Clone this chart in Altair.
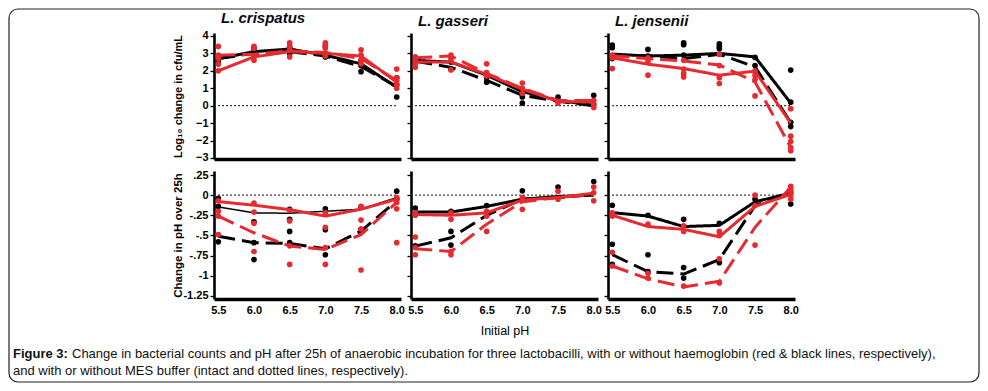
import altair as alt
import pandas as pd

FONT = "Liberation Sans, Arial, Helvetica, sans-serif"
BLACK = "#000000"
RED = "#e62a2f"

PH = [5.5, 6.0, 6.5, 7.0, 7.5, 8.0]
SPECIES = ["L. crispatus", "L. gasseri", "L. jensenii"]
CAPTION_BOLD = "Figure 3:"
CAPTION_1 = ("Change in bacterial counts and pH after 25h of anaerobic incubation for three "
             "lactobacilli, with or without haemoglobin (red & black lines, respectively),")
CAPTION_2 = "and with or without MES buffer (intact and dotted lines, respectively)."

CFU_TICKS = [4, 3, 2, 1, 0, -1, -2, -3]
PH_TICKS = [0.25, 0, -0.25, -0.5, -0.75, -1, -1.25]

# ---------- Log10 change in cfu/mL (mean lines) ----------
CRISP_CFU = {
    "-Hb +MES": [2.7, 3.1, 3.25, 2.9, 2.4, 1.05],
    "-Hb -MES": [2.7, 3.0, 3.1, 2.85, 2.25, 1.1],
    "+Hb +MES": [2.0, 2.8, 3.1, 3.0, 2.85, 1.35],
    "+Hb -MES": [2.9, 2.95, 3.15, 3.05, 2.7, 1.45],
}
GASS_CFU = {
    "-Hb +MES": [2.6, 2.5, 1.75, 0.8, 0.3, 0.02],
    "-Hb -MES": [2.55, 2.2, 1.45, 0.6, 0.25, 0.0],
    "+Hb +MES": [2.5, 2.5, 1.8, 0.95, 0.25, 0.2],
    "+Hb -MES": [2.75, 2.85, 1.85, 1.0, 0.3, 0.3],
}
JENS_CFU = {
    "-Hb +MES": [2.96, 2.85, 2.9, 3.0, 2.8, 0.15],
    "-Hb -MES": [2.9, 2.87, 2.7, 2.95, 2.23, -0.97],
    "+Hb +MES": [2.75, 2.38, 2.13, 1.75, 1.98, -1.0],
    "+Hb -MES": [2.87, 2.7, 2.56, 2.33, 1.36, -2.4],
}
# replicate points
CRISP_CFU_BLACK = {5.5: [2.8, 2.6, 2.4], 6.0: [3.3, 3.1, 2.9], 6.5: [3.35, 3.1, 3.0],
                   7.0: [3.4, 2.9, 2.8], 7.5: [2.6, 2.3, 1.95], 8.0: [1.6, 1.2, 0.5]}
CRISP_CFU_RED = {5.5: [3.4, 2.9, 2.8, 2.7, 2.4, 2.0], 6.0: [3.4, 3.3, 2.8, 2.6],
                 6.5: [3.6, 3.4, 3.2, 2.8], 7.0: [3.6, 3.5, 3.3, 3.0, 2.85],
                 7.5: [3.2, 2.9, 2.6, 2.4], 8.0: [2.1, 1.6, 1.4, 1.2, 1.0]}
GASS_CFU_BLACK = {5.5: [2.7, 2.5], 6.0: [2.5, 2.1], 6.5: [1.6, 1.35],
                  7.0: [0.9, 0.5, 0.15], 7.5: [0.5, 0.3], 8.0: [0.6, 0.05]}
GASS_CFU_RED = {5.5: [2.8, 2.6, 2.4, 2.2], 6.0: [2.9, 2.7, 2.05], 6.5: [2.4, 1.9, 1.7],
                7.0: [1.3, 1.0, 0.7], 7.5: [0.25, 0.15], 8.0: [0.3, 0.1, -0.1]}
JENS_CFU_BLACK = {5.5: [3.48, 3.33, 2.7], 6.0: [3.23, 2.85], 6.5: [3.6, 3.5, 2.9],
                  7.0: [3.55, 3.4, 3.27, 2.95], 7.5: [2.77, 2.3], 8.0: [2.04, 0.2, -0.95, -1.2]}
JENS_CFU_RED = {5.5: [2.9, 2.75, 2.13], 6.0: [2.75, 2.55, 1.75], 6.5: [2.6, 2.1, 1.85, 1.65],
                7.0: [2.95, 2.3, 1.6, 1.27], 7.5: [2.0, 1.75, 1.5, 0.56],
                8.0: [-0.17, -1.75, -2.06, -2.4, -2.58]}

# ---------- Change in pH over 25h (mean lines) ----------
CRISP_PH = {
    "-Hb +MES": [-0.146, -0.22, -0.225, -0.2, -0.175, -0.03],
    "-Hb -MES": [-0.51, -0.59, -0.6, -0.667, -0.446, -0.07],
    "+Hb +MES": [-0.08, -0.125, -0.18, -0.26, -0.175, -0.05],
    "+Hb -MES": [-0.26, -0.467, -0.633, -0.675, -0.49, -0.09],
}
GASS_PH = {
    "-Hb +MES": [-0.21, -0.21, -0.14, -0.05, -0.017, 0.0],
    "-Hb -MES": [-0.633, -0.53, -0.25, -0.05, -0.03, 0.01],
    "+Hb +MES": [-0.24, -0.25, -0.22, -0.06, -0.03, 0.025],
    "+Hb -MES": [-0.667, -0.7, -0.36, -0.083, -0.03, 0.01],
}
JENS_PH = {
    "-Hb +MES": [-0.217, -0.26, -0.39, -0.375, -0.083, 0.025],
    "-Hb -MES": [-0.74, -0.95, -0.98, -0.8, -0.13, 0.02],
    "+Hb +MES": [-0.25, -0.39, -0.425, -0.517, -0.14, 0.01],
    "+Hb -MES": [-0.88, -1.04, -1.14, -1.07, -0.4, 0.1],
}
CRISP_PH_BLACK = {5.5: [-0.04, -0.14, -0.58], 6.0: [-0.33, -0.59, -0.8],
                  6.5: [-0.175, -0.3, -0.45, -0.59], 7.0: [-0.17, -0.43, -0.74],
                  7.5: [-0.15, -0.425], 8.0: [0.05, -0.05]}
CRISP_PH_RED = {5.5: [-0.07, -0.2, -0.26, -0.49], 6.0: [-0.1, -0.21, -0.35, -0.7],
                6.5: [-0.19, -0.32, -0.63, -0.86], 7.0: [-0.22, -0.4, -0.65, -0.86],
                7.5: [-0.14, -0.31, -0.42, -0.93], 8.0: [-0.03, -0.09, -0.17, -0.59]}
GASS_PH_BLACK = {5.5: [-0.16, -0.63], 6.0: [-0.2, -0.45, -0.62], 6.5: [-0.13],
                 7.0: [0.054], 7.5: [0.1], 8.0: [0.17]}
GASS_PH_RED = {5.5: [-0.22, -0.25, -0.52, -0.65, -0.74], 6.0: [-0.22, -0.3, -0.7, -0.74],
               6.5: [-0.2, -0.26, -0.45], 7.0: [-0.03, -0.175], 7.5: [0.05, -0.05],
               8.0: [0.1, 0.03, -0.07]}
JENS_PH_BLACK = {5.5: [-0.125, -0.61, -0.86], 6.0: [-0.25, -0.74, -0.95],
                 6.5: [-0.3, -0.9, -1.03], 7.0: [-0.35, -0.84], 7.5: [-0.05], 8.0: [0.03, -0.11]}
JENS_PH_RED = {5.5: [-0.22, -0.26, -0.71, -0.88], 6.0: [-0.36, -0.97, -1.03],
               6.5: [-0.38, -0.45, -1.13], 7.0: [-0.45, -0.5, -0.79, -1.09],
               7.5: [0.0, -0.13, -0.62], 8.0: [0.11, 0.08, 0.05, 0.0, -0.05]}


def lines_df(d):
    rows = []
    for key, vals in d.items():
        hb, mes = key.split(" ")
        for p, v in zip(PH, vals):
            rows.append({"ph": p, "value": v, "hb": hb, "mes": mes, "series": key})
    return pd.DataFrame(rows)


def pts_df(black, red):
    rows = []
    for hb, d in (("-Hb", black), ("+Hb", red)):
        for p, vals in d.items():
            for v in vals:
                rows.append({"ph": p, "value": v, "hb": hb})
    return pd.DataFrame(rows)


def panel(row, col, lines, black, red):
    top = row == 0
    h = 126 if top else 128
    ydom = [-3.06, 4.17] if top else [-1.29, 0.30]

    if top:
        xaxis = alt.Axis(title=None, labels=False, ticks=False, domainWidth=3.5)
    else:
        xaxis = alt.Axis(values=PH, format=".1f", ticks=False, labelPadding=5,
                         domainWidth=3.5, labelFontSize=11,
                         title="Initial pH" if col == 1 else None,
                         titleFontWeight="normal", titleFontSize=12.5, titlePadding=9)
    if col == 0:
        if top:
            yaxis = alt.Axis(values=CFU_TICKS, format="d", title="Log₁₀ change in cfu/mL",
                             titleX=-36, titleY=h / 2, titleAlign="center",
                             titleBaseline="middle", titleFontSize=11)
        else:
            yaxis = alt.Axis(values=PH_TICKS,
                             labelExpr="replace(toString(datum.value), '0.', '.')",
                             title="Change in pH over 25h",
                             titleX=-36, titleY=h / 2, titleAlign="center",
                             titleBaseline="middle", titleFontSize=11.5)
    else:
        yaxis = alt.Axis(values=CFU_TICKS if top else PH_TICKS, labels=False, title=None)

    x = alt.X("ph:Q", scale=alt.Scale(domain=[5.44, 8.06], nice=False, zero=False), axis=xaxis)
    y = alt.Y("value:Q", scale=alt.Scale(domain=ydom, nice=False, zero=False), axis=yaxis)

    ldf = lines_df(lines)
    pdf = pts_df(black, red)

    rule = alt.Chart(pd.DataFrame({"ph": [5.5], "ph2": [8.0], "value": [0.0]})).mark_rule(
        color=BLACK, strokeDash=[1.5, 2.5], strokeWidth=1.2).encode(x=x, x2="ph2:Q", y=y)

    dash = alt.StrokeDash("mes:N", scale=alt.Scale(domain=["+MES", "-MES"],
                                                   range=[[1, 0], [17, 7]]), legend=None)
    if (row, col) == (1, 0):
        sw = alt.condition(alt.datum.series == "-Hb +MES", alt.value(1.5), alt.value(3))
    else:
        sw = alt.value(3)

    layers = [rule]
    for hb, colr in (("-Hb", BLACK), ("+Hb", RED)):
        layers.append(alt.Chart(ldf).transform_filter(alt.datum.hb == hb).mark_line(
            color=colr).encode(x=x, y=y, strokeDash=dash, detail="series:N", strokeWidth=sw))
        layers.append(alt.Chart(pdf).transform_filter(alt.datum.hb == hb).mark_circle(
            color=colr, size=32, opacity=1).encode(x=x, y=y))

    if (row, col) == (1, 0):
        frame = alt.Chart(pd.DataFrame({"a": [0]})).mark_rect(
            fillOpacity=0, stroke="#222222", strokeWidth=1.2, cornerRadius=9).encode(
            x=alt.value(-205), x2=alt.value(765), y=alt.value(-162), y2=alt.value(211))
        cap0 = alt.Chart(pd.DataFrame({"t": [CAPTION_BOLD]})).mark_text(
            align="left", baseline="middle", fontSize=13, fontWeight="bold", font=FONT,
            color="#111111").encode(text="t:N", x=alt.value(-201), y=alt.value(183))
        cap1 = alt.Chart(pd.DataFrame({"t": [CAPTION_1]})).mark_text(
            align="left", baseline="middle", fontSize=13, font=FONT,
            color="#111111").encode(text="t:N", x=alt.value(-142), y=alt.value(183))
        cap2 = alt.Chart(pd.DataFrame({"t": [CAPTION_2]})).mark_text(
            align="left", baseline="middle", fontSize=13, font=FONT,
            color="#111111").encode(text="t:N", x=alt.value(-201), y=alt.value(200))
        layers += [frame, cap0, cap1, cap2]

    props = dict(width=187, height=h)
    if top:
        props["title"] = alt.TitleParams(SPECIES[col], anchor="start", frame="group", dx=7,
                                         offset=4, fontSize=15, fontStyle="italic",
                                         fontWeight="bold", font=FONT, color="#0a0a14")
    return alt.layer(*layers).properties(**props)


panels = [
    panel(0, 0, CRISP_CFU, CRISP_CFU_BLACK, CRISP_CFU_RED),
    panel(0, 1, GASS_CFU, GASS_CFU_BLACK, GASS_CFU_RED),
    panel(0, 2, JENS_CFU, JENS_CFU_BLACK, JENS_CFU_RED),
    panel(1, 0, CRISP_PH, CRISP_PH_BLACK, CRISP_PH_RED),
    panel(1, 1, GASS_PH, GASS_PH_BLACK, GASS_PH_RED),
    panel(1, 2, JENS_PH, JENS_PH_BLACK, JENS_PH_RED),
]

chart = alt.concat(*panels, columns=3, spacing={"row": 12, "column": 10},
                   bounds="flush").properties(
    padding={"left": 0, "top": 0, "right": 0, "bottom": 0}
).configure_axis(
    grid=False, domainColor=BLACK, domainWidth=2.6, tickColor=BLACK, tickWidth=1.3,
    tickSize=4, labelColor=BLACK, labelFont=FONT, labelFontWeight="bold", labelFontSize=11,
    labelPadding=2, titleFont=FONT, titleFontWeight="bold", titleColor=BLACK
).configure_view(stroke=None)

chart.save("out.html", embed_options={"renderer": "svg", "actions": False})
